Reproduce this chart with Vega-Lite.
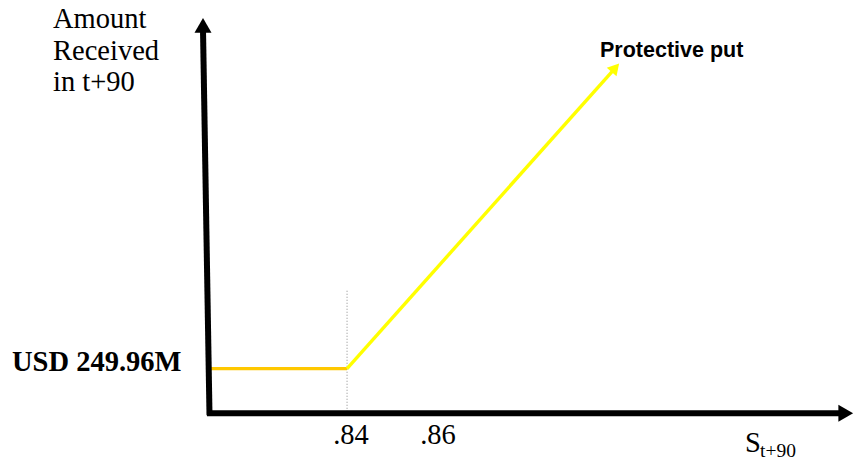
{
  "$schema": "https://vega.github.io/schema/vega-lite/v6.json",
  "width": 854,
  "height": 461,
  "padding": 0,
  "autosize": {"type": "fit", "contains": "padding"},
  "background": "white",
  "config": {"view": {"stroke": null}},
  "datasets": {
    "dotted": [{"s": 0.84, "m": 247.45, "m2": 254.526}],
    "floor": [{"s": 0.8098, "s2": 0.84, "m": 249.96, "m2": 249.96}],
    "payoff": [{"s": 0.84, "s2": 0.89863, "m": 249.96, "m2": 267.326}],
    "payoffHead": [{"s": 0.89907, "m": 267.459}],
    "axes": [
      {"s": 0.80972, "s2": 0.80829, "m": 247.245, "m2": 269.666},
      {"s": 0.80917, "s2": 0.94984, "m": 247.361, "m2": 247.361}
    ],
    "yHead": [{"s": 0.80829, "m": 269.926}],
    "xHead": [{"s": 0.94978, "m": 247.361}],
    "serifLeft": [
      {"s": 0.77527, "m": 269.782, "label": "Amount"},
      {"s": 0.77527, "m": 267.933, "label": "Received"},
      {"s": 0.77527, "m": 266.084, "label": "in t+90"},
      {"s": 0.9276, "m": 245.107, "label": "S"}
    ],
    "ticks": [
      {"s": 0.84087, "m": 245.569, "label": ".84"},
      {"s": 0.86002, "m": 245.569, "label": ".86"}
    ],
    "sub": [{"s": 0.93091, "m": 244.818, "label": "t+90"}],
    "usd": [{"s": 0.76624, "m": 249.845, "label": "USD 249.96M"}],
    "put": [{"s": 0.89568, "m": 268.106, "label": "Protective put"}]
  },
  "encoding": {
    "x": {"field": "s", "type": "quantitative", "axis": null, "scale": {"domain": [0.7636, 0.9516], "nice": false, "zero": false}},
    "y": {"field": "m", "type": "quantitative", "axis": null, "scale": {"domain": [244.76, 271.4], "nice": false, "zero": false}}
  },
  "layer": [
    {
      "data": {"name": "dotted"},
      "mark": {"type": "rule", "color": "#8a8a8a", "strokeWidth": 1, "strokeDash": [1, 2]},
      "encoding": {"y2": {"field": "m2"}}
    },
    {
      "data": {"name": "floor"},
      "mark": {"type": "rule", "color": "#FFC800", "strokeWidth": 3.4},
      "encoding": {"x2": {"field": "s2"}, "y2": {"field": "m2"}}
    },
    {
      "data": {"name": "payoff"},
      "mark": {"type": "rule", "color": "#FFFF00", "strokeWidth": 3.4},
      "encoding": {"x2": {"field": "s2"}, "y2": {"field": "m2"}}
    },
    {
      "data": {"name": "payoffHead"},
      "mark": {"type": "point", "shape": "triangle-up", "filled": true, "opacity": 1, "color": "#FFFF00", "size": 170, "angle": 41.6}
    },
    {
      "data": {"name": "axes"},
      "mark": {"type": "rule", "color": "black", "strokeWidth": 6, "strokeCap": "butt"},
      "encoding": {"x2": {"field": "s2"}, "y2": {"field": "m2"}}
    },
    {
      "data": {"name": "yHead"},
      "mark": {"type": "point", "shape": "triangle-up", "filled": true, "opacity": 1, "color": "black", "size": 290}
    },
    {
      "data": {"name": "xHead"},
      "mark": {"type": "point", "shape": "triangle-right", "filled": true, "opacity": 1, "color": "black", "size": 290}
    },
    {
      "data": {"name": "serifLeft"},
      "mark": {"type": "text", "font": "Liberation Serif", "fontSize": 28.5, "align": "left", "baseline": "alphabetic", "color": "black"},
      "encoding": {"text": {"field": "label"}}
    },
    {
      "data": {"name": "ticks"},
      "mark": {"type": "text", "font": "Liberation Serif", "fontSize": 28.5, "align": "center", "baseline": "alphabetic", "color": "black"},
      "encoding": {"text": {"field": "label"}}
    },
    {
      "data": {"name": "sub"},
      "mark": {"type": "text", "font": "Liberation Serif", "fontSize": 19.5, "align": "left", "baseline": "alphabetic", "color": "black"},
      "encoding": {"text": {"field": "label"}}
    },
    {
      "data": {"name": "usd"},
      "mark": {"type": "text", "font": "Liberation Serif", "fontSize": 28.5, "fontWeight": "bold", "align": "left", "baseline": "alphabetic", "color": "black"},
      "encoding": {"text": {"field": "label"}}
    },
    {
      "data": {"name": "put"},
      "mark": {"type": "text", "font": "Liberation Sans", "fontSize": 21.5, "fontWeight": "bold", "align": "left", "baseline": "alphabetic", "color": "black"},
      "encoding": {"text": {"field": "label"}}
    }
  ]
}
